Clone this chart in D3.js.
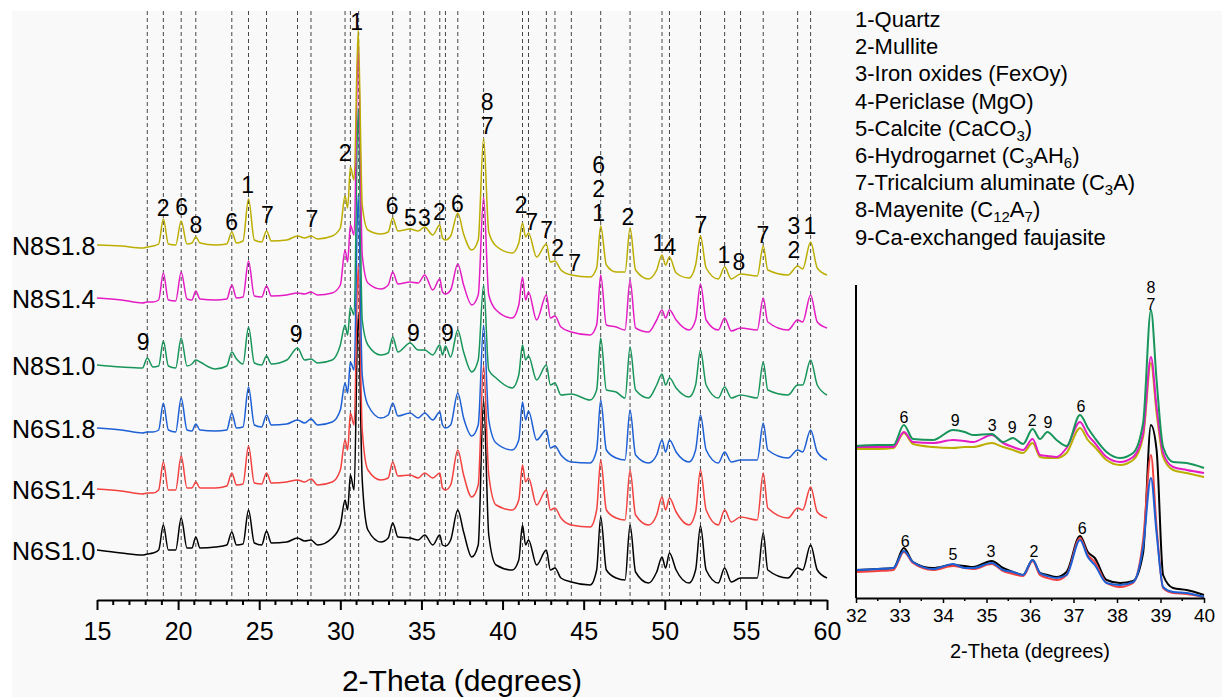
<!DOCTYPE html>
<html>
<head>
<meta charset="utf-8">
<script src="https://cdn.jsdelivr.net/npm/d3@7"></script>
<style>
  body { margin: 0; background: #fff; }
  svg text { font-family: "Liberation Sans", Arial, sans-serif; fill: #000; }
</style>
</head>
<body>
<svg id="chart" width="1222" height="697"></svg>
<script>
// 2-theta sampling points for the main patterns (degrees)
const twoTheta = [15.0, 16.5, 17.8, 18.1, 18.45, 18.8, 19.09, 19.4, 19.85, 20.19,
  20.55, 20.85, 21.09, 21.35, 22.3, 23.0, 23.31, 23.6, 24.0, 24.34,
  24.7, 25.15, 25.45, 25.75, 26.7, 27.36, 27.8, 28.19, 28.6, 29.5,
  30.0, 30.29, 30.45, 30.62, 30.85, 31.1, 31.35, 31.7, 32.5, 32.95,
  33.23, 33.55, 34.3, 34.8, 35.2, 35.7, 36.13, 36.3, 36.48, 36.8,
  37.24, 37.6, 38.1, 38.5, 38.83, 39.15, 39.6, 40.6, 41.0, 41.23,
  41.42, 41.6, 42.1, 42.7, 42.95, 43.23, 43.6, 44.24, 45.4, 45.8,
  46.05, 46.4, 47.0, 47.55, 47.86, 48.2, 49.0, 49.5, 49.83, 50.05,
  50.29, 50.7, 51.5, 51.9, 52.2, 52.55, 53.3, 53.69, 54.1, 54.67,
  55.7, 56.07, 56.35, 57.6, 58.19, 58.5, 58.99, 59.4, 60.0];

// intensities (a.u., stacked offsets included)
const n8s18 = [355,354,352,353,354,356,381,356,355,379,
  356,357,363,357,355,356,368,357,359,401,
  360,358,369,359,360,364,362,364,361,364,
  372,404,392,433,420,570,395,370,366,368,
  382,369,371,369,373,365,375,362,360,364,
  387,366,350,360,462,368,354,347,357,377,
  363,367,343,356,338,339,330,325,323,332,
  374,335,328,328,372,330,321,330,345,335,
  343,327,322,335,364,332,321,333,321,326,
  324,354,330,325,334,331,358,332,325];
const n8s14 = [302,300,297,298,298,300,327,300,299,328,
  301,300,309,301,300,301,315,302,303,339,
  304,303,314,304,305,307,306,308,305,307,
  315,350,338,375,365,555,345,317,311,315,
  328,316,318,317,325,310,321,308,306,310,
  336,315,295,305,403,305,290,282,295,323,
  300,308,280,305,282,284,273,268,265,275,
  325,275,273,270,320,272,268,280,290,282,
  290,280,270,280,316,280,270,282,269,272,
  270,302,278,270,280,278,305,278,272];
const n8s10 = [235,233,232,242,233,234,259,234,232,262,
  234,236,240,238,231,234,248,241,236,273,
  237,235,244,236,240,252,240,241,237,240,
  255,275,265,293,285,492,280,255,245,247,
  263,248,257,250,250,245,255,245,254,243,
  270,248,228,240,315,230,222,212,225,255,
  240,244,220,235,215,217,205,206,200,210,
  262,210,208,202,253,210,202,215,226,215,
  222,212,203,215,250,215,202,213,202,205,
  202,238,210,205,215,215,240,215,205];
const n6s18 = [172,170,167,168,168,170,197,170,168,202,
  170,169,176,170,169,170,187,172,173,213,
  175,173,185,175,176,180,177,181,175,178,
  190,217,207,238,230,405,225,195,182,185,
  197,184,187,182,187,180,188,175,172,175,
  207,182,164,175,275,180,157,150,160,198,
  180,189,160,170,152,154,145,138,137,150,
  200,150,142,140,190,145,137,145,160,148,
  160,148,138,150,185,150,137,148,138,140,
  140,177,150,142,150,148,170,148,140];
const n6s14 = [111,109,106,107,107,110,138,110,110,144,
  112,112,118,112,112,114,127,115,116,154,
  117,116,127,117,118,120,118,121,115,118,
  130,160,150,187,175,335,170,130,120,122,
  138,124,125,122,127,122,127,112,110,115,
  150,125,103,115,235,125,95,90,100,135,
  118,122,95,110,90,92,82,75,73,90,
  140,90,82,80,130,85,75,85,103,90,
  102,88,75,88,130,90,75,90,78,83,
  80,127,92,82,92,90,113,88,82];
const n6s10 = [50,47,45,46,47,50,75,50,50,82,
  52,52,63,52,53,55,68,55,56,90,
  57,55,69,57,58,62,59,60,55,62,
  75,100,90,125,110,285,120,70,58,62,
  77,63,62,60,65,55,65,55,54,60,
  90,68,43,55,200,65,35,30,40,75,
  55,60,35,50,30,32,22,18,15,30,
  83,30,22,20,75,28,17,28,43,32,
  47,30,17,30,74,30,17,32,18,22,
  22,67,30,22,32,30,55,30,22];

const sampleNames = ["N6S1.0", "N6S1.4", "N6S1.8", "N8S1.0", "N8S1.4", "N8S1.8"];
const sampleColors = ["#000000", "#f2413f", "#1d5fd4", "#17955a", "#e31cc4", "#bcae00"];

// reference (dashed) peak positions
const refLines = [18.1, 19.09, 20.19, 21.09, 23.31, 24.34, 25.45, 27.36, 28.19, 30.29,
  30.62, 31.13, 33.23, 34.3, 35.2, 36.13, 36.48, 37.24, 38.83, 41.23,
  41.6, 42.7, 43.23, 44.24, 46.05, 47.86, 49.83, 50.29, 52.2, 53.69,
  54.67, 56.07, 58.19, 58.99];

// phase labels: [2theta, intensity, text]
const peakLabels = [
  [19.07, 392, "2"], [20.22, 393, "6"], [21.1, 375, "8"], [23.3, 378, "6"], [24.28, 415, "1"],
  [25.5, 385, "7"], [28.25, 381, "7"], [30.3, 447, "2"], [31.0, 578, "1"], [33.2, 394, "6"],
  [34.32, 382, "5"], [35.18, 382, "3"], [36.1, 388, "2"], [37.22, 396, "6"],
  [39.05, 498, "8"], [39.05, 474, "7"], [41.15, 395, "2"], [41.8, 378, "7"], [42.72, 370, "7"],
  [43.4, 352, "2"], [44.45, 337, "7"], [45.93, 435, "6"], [45.93, 411, "2"], [45.93, 387, "1"],
  [47.72, 383, "2"], [49.63, 357, "1"], [50.31, 353, "4"], [52.22, 375, "7"], [53.64, 345, "1"],
  [54.57, 338, "8"], [56.05, 365, "7"], [57.96, 374, "3"], [57.96, 350, "2"], [58.95, 374, "1"],
  [17.84, 258, "9"], [27.28, 266, "9"], [34.5, 267, "9"], [36.6, 267, "9"]
];

// inset (32-40 degrees)
const insetTheta = [32.0, 32.5, 32.86, 33.1, 33.31, 33.77, 34.23, 34.5, 34.69, 35.12,
  35.38, 35.61, 35.84, 36.06, 36.23, 36.4, 36.61, 36.84, 37.15, 37.33,
  37.49, 37.76, 38.07, 38.37, 38.6, 38.78, 38.91, 39.06, 39.29, 39.6, 40.0];
const insetN8S18 = [149,149,150,165,154,151,150,151,151,155,151,148,145,155,141,140,140,145,170,158,151,138,133,138,161,235,185,141,128,125,121];
const insetN8S14 = [151,151,151,166,156,155,158,157,156,163,155,151,148,159,143,142,141,150,176,163,155,141,136,141,165,241,191,145,131,128,125];
const insetN8S10 = [152,153,153,173,159,158,168,166,163,164,156,160,154,169,159,166,158,152,183,170,160,146,140,145,175,288,218,151,136,135,130];
const insetN6S10 = [28,29,30,50,36,30,33,32,31,37,30,26,23,38,25,23,21,26,62,46,40,18,15,17,45,173,148,23,10,8,3];
const insetN6S14 = [26,27,28,46,35,28,32,30,29,34,27,24,22,37,23,20,18,23,60,43,36,15,11,15,58,143,71,10,5,4,1];
const insetN6S18 = [28,29,30,47,36,29,34,30,30,35,28,26,23,38,25,22,20,23,58,41,33,15,13,16,51,120,65,11,6,5,1];

const insetLabels = [
  [38.78, 311, "8"], [38.78, 294, "7"], [33.1, 181, "6"], [34.28, 178, "9"], [35.13, 173, "3"],
  [35.59, 171, "9"], [36.05, 178, "2"], [36.41, 176, "9"], [37.17, 192, "6"],
  [33.13, 57, "6"], [34.23, 44, "5"], [35.1, 47, "3"], [36.09, 47, "2"], [37.2, 70, "6"]
];

// legend entries, [text, isSubscript]
const legendItems = [
  [["1-Quartz", false]],
  [["2-Mullite", false]],
  [["3-Iron oxides (FexOy)", false]],
  [["4-Periclase (MgO)", false]],
  [["5-Calcite (CaCO", false], ["3", true], [")", false]],
  [["6-Hydrogarnet (C", false], ["3", true], ["AH", false], ["6", true], [")", false]],
  [["7-Tricalcium aluminate (C", false], ["3", true], ["A)", false]],
  [["8-Mayenite (C", false], ["12", true], ["A", false], ["7", true], [")", false]],
  [["9-Ca-exchanged faujasite", false]]
];

const svg = d3.select("#chart");

// panel background
svg.append("rect")
  .attr("x", 12).attr("y", 11)
  .attr("width", 1210).attr("height", 686)
  .attr("fill", "#f9f9f9");

// ---------- main chart ----------
const x = d3.scaleLinear().domain([15, 60]).range([97, 827]);
const y = d3.scaleLinear().domain([0, 589]).range([600, 11]);

// dashed reference lines
svg.append("g").selectAll("line")
  .data(refLines)
  .join("line")
  .attr("x1", d => x(d)).attr("x2", d => x(d))
  .attr("y1", y(589)).attr("y2", y(0))
  .attr("stroke", "#333")
  .attr("stroke-width", 0.9)
  .attr("stroke-dasharray", "4,3");

const line = d3.line()
  .x((d, i) => x(twoTheta[i]))
  .y(d => y(d))
  .curve(d3.curveMonotoneX);

const mainSeries = [n6s10, n6s14, n6s18, n8s10, n8s14, n8s18];

svg.append("g").selectAll("path")
  .data(mainSeries)
  .join("path")
  .attr("d", d => line(d))
  .attr("fill", "none")
  .attr("stroke", (d, i) => sampleColors[i])
  .attr("stroke-width", 1.5)
  .attr("stroke-linejoin", "round");

// sample names at the start of each trace
svg.append("g").selectAll("text")
  .data(mainSeries)
  .join("text")
  .attr("x", 12)
  .attr("y", d => y(d[0]) + 10)
  .attr("font-size", 25)
  .text((d, i) => sampleNames[i]);

// phase numbers
svg.append("g").selectAll("text")
  .data(peakLabels)
  .join("text")
  .attr("x", d => x(d[0]))
  .attr("y", d => y(d[1]) + 8)
  .attr("text-anchor", "middle")
  .attr("font-size", 23)
  .text(d => d[2]);

// x axis
const xAxis = d3.axisBottom(x)
  .tickValues(d3.range(15, 61, 5))
  .tickSize(10)
  .tickSizeOuter(0)
  .tickPadding(12)
  .tickFormat(d3.format("d"));

const gx = svg.append("g")
  .attr("transform", "translate(0,600)")
  .call(xAxis);
gx.select(".domain").attr("stroke", "#000").attr("stroke-width", 2);
gx.selectAll(".tick line").attr("stroke", "#000").attr("stroke-width", 2);
gx.selectAll(".tick text")
  .attr("font-size", 25)
  .attr("font-family", "Liberation Sans, Arial, sans-serif");

gx.selectAll(".minor")
  .data(d3.range(15, 61).filter(d => d % 5 !== 0))
  .join("line")
  .attr("class", "minor")
  .attr("x1", d => x(d)).attr("x2", d => x(d))
  .attr("y1", 0).attr("y2", 5)
  .attr("stroke", "#000")
  .attr("stroke-width", 2);

svg.append("text")
  .attr("x", (x(15) + x(60)) / 2)
  .attr("y", 691)
  .attr("text-anchor", "middle")
  .attr("font-size", 30)
  .text("2-Theta (degrees)");

// ---------- legend ----------
const legend = svg.append("g");
legendItems.forEach((parts, i) => {
  const t = legend.append("text")
    .attr("x", 855)
    .attr("y", 27 + i * 27.2)
    .attr("font-size", 22);
  let shifted = false;
  parts.forEach(([str, sub]) => {
    const span = t.append("tspan").text(str);
    if (sub && !shifted) { span.attr("dy", 5).attr("font-size", 15); shifted = true; }
    else if (sub) { span.attr("font-size", 15); }
    else if (shifted) { span.attr("dy", -5); shifted = false; }
  });
});

// ---------- inset ----------
const xi = d3.scaleLinear().domain([32, 40]).range([856, 1204]);
const yi = d3.scaleLinear().domain([0, 313]).range([598, 285]);

const insetLine = d3.line()
  .x((d, i) => xi(insetTheta[i]))
  .y(d => yi(d))
  .curve(d3.curveMonotoneX);

const insetSeries = [
  [insetN8S18, "#bcae00"], [insetN8S14, "#e31cc4"], [insetN8S10, "#17955a"],
  [insetN6S10, "#000000"], [insetN6S14, "#f2413f"], [insetN6S18, "#1d5fd4"]
];

svg.append("g").selectAll("path")
  .data(insetSeries)
  .join("path")
  .attr("d", d => insetLine(d[0]))
  .attr("fill", "none")
  .attr("stroke", d => d[1])
  .attr("stroke-width", 2)
  .attr("stroke-linejoin", "round");

svg.append("g").selectAll("text")
  .data(insetLabels)
  .join("text")
  .attr("x", d => xi(d[0]))
  .attr("y", d => yi(d[1]) + 6)
  .attr("text-anchor", "middle")
  .attr("font-size", 16)
  .text(d => d[2]);

const xiAxis = d3.axisBottom(xi)
  .tickValues(d3.range(32, 41))
  .tickSize(5)
  .tickSizeOuter(0)
  .tickPadding(6)
  .tickFormat(d3.format("d"));

const gxi = svg.append("g")
  .attr("transform", "translate(0,598)")
  .call(xiAxis);
gxi.select(".domain").attr("stroke", "#000").attr("stroke-width", 2);
gxi.selectAll(".tick line").attr("stroke", "#000").attr("stroke-width", 1.5);
gxi.selectAll(".tick text")
  .attr("font-size", 19)
  .attr("font-family", "Liberation Sans, Arial, sans-serif");
gxi.selectAll(".minor")
  .data(d3.range(32.5, 40, 1))
  .join("line")
  .attr("class", "minor")
  .attr("x1", d => xi(d)).attr("x2", d => xi(d))
  .attr("y1", 0).attr("y2", 3)
  .attr("stroke", "#000")
  .attr("stroke-width", 1.5);

// left axis line of the inset
svg.append("line")
  .attr("x1", xi(32)).attr("x2", xi(32))
  .attr("y1", yi(313)).attr("y2", yi(0))
  .attr("stroke", "#000")
  .attr("stroke-width", 2);

svg.append("text")
  .attr("x", (xi(32) + xi(40)) / 2)
  .attr("y", 658)
  .attr("text-anchor", "middle")
  .attr("font-size", 20)
  .text("2-Theta (degrees)");
</script>
</body>
</html>
